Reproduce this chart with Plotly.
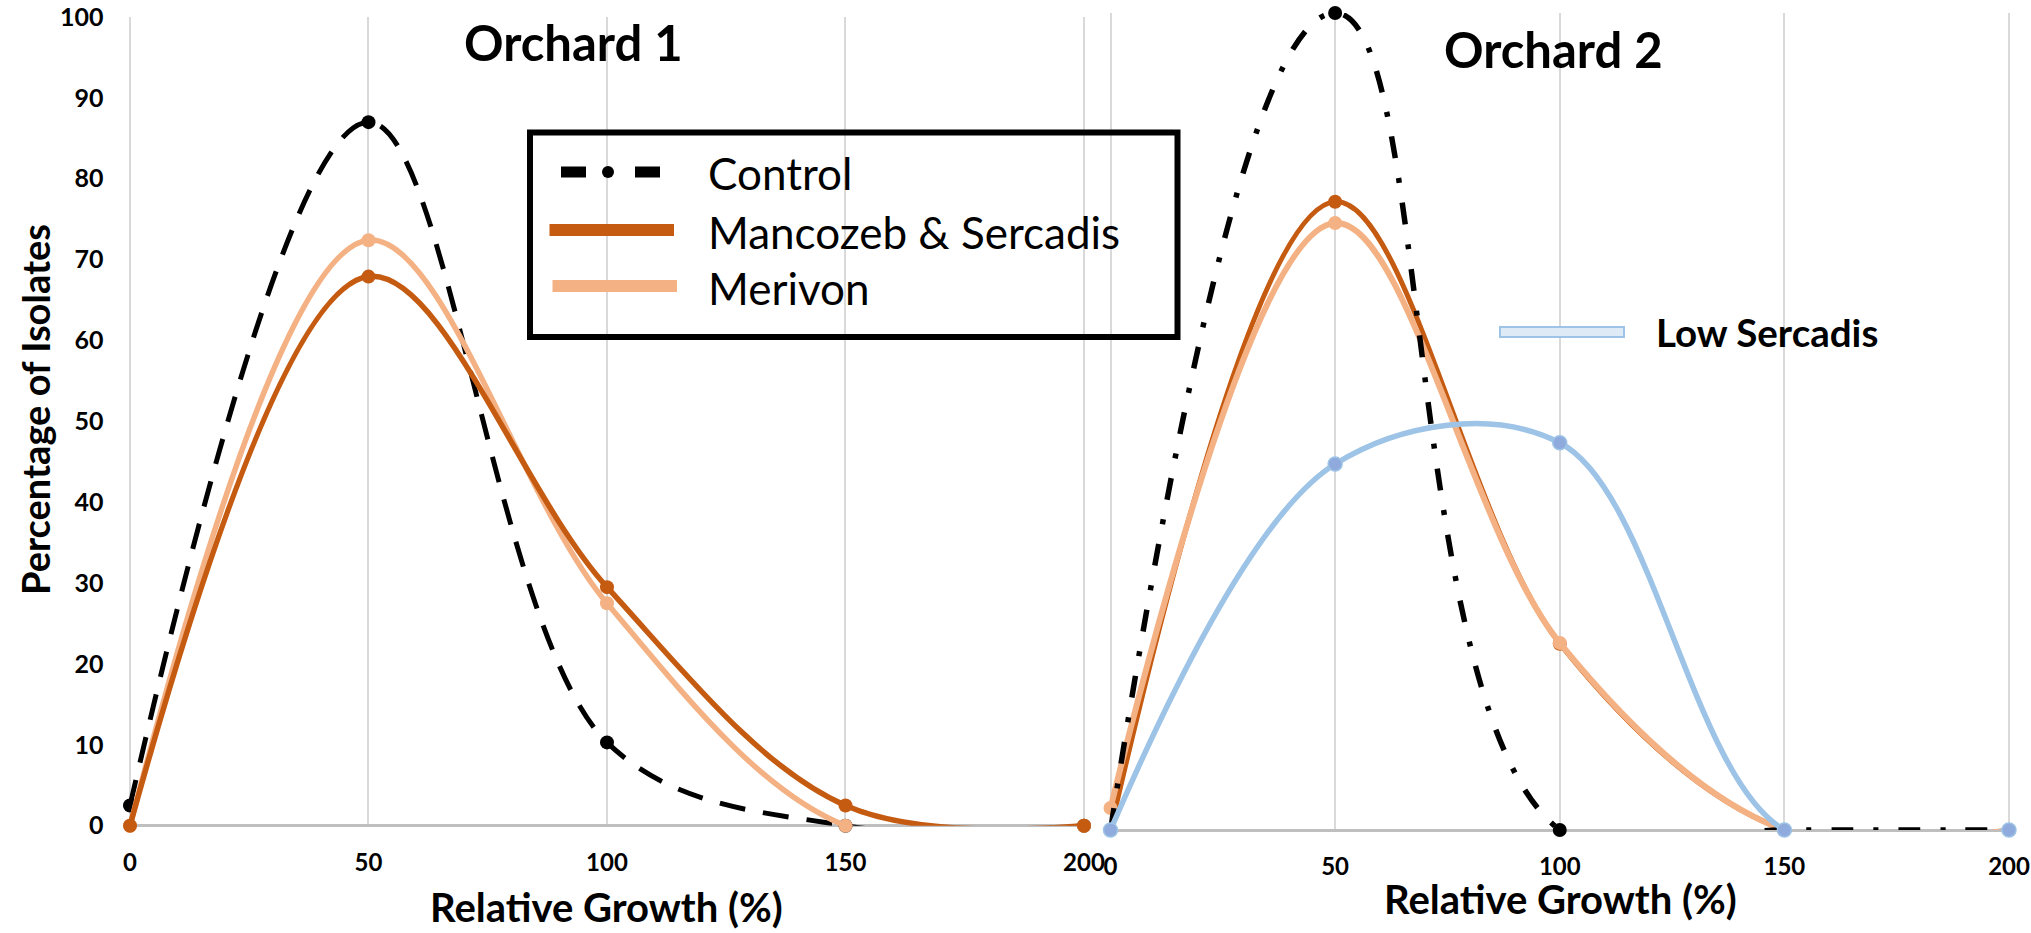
import plotly.graph_objects as go

W, H = 2031, 933

# ---------------- data ----------------
x_vals = [0, 50, 100, 150, 200]
x_ticks = [0, 50, 100, 150, 200]
y_ticks = [0, 10, 20, 30, 40, 50, 60, 70, 80, 90, 100]

o1_control = [2.5, 87.0, 10.3, 0.0, 0.0]
o1_mancozeb = [0.0, 67.9, 29.5, 2.5, 0.0]
o1_merivon = [0.0, 72.4, 27.5, 0.0, 0.0]

o2_control = [0.0, 100.0, 0.0, 0.0, 0.0]
o2_mancozeb = [0.0, 76.9, 22.8, 0.0, 0.0]
o2_merivon = [2.7, 74.3, 22.9, 0.0, 0.0]
o2_low_sercadis = [0.0, 44.8, 47.4, 0.0, 0.0]

series_names = ["Control", "Mancozeb & Sercadis", "Merivon", "Low Sercadis"]
panel_titles = ["Orchard 1", "Orchard 2"]
x_title = "Relative Growth (%)"
y_title = "Percentage of Isolates"

C_CONTROL = "#000000"
C_MANC = "#C55A11"
C_MERI = "#F4B183"
C_LOW = "#9DC3E6"
C_LOW_MK = "#8FAADC"
GRID = "#D9D9D9"
AXIS = "#BFBFBF"

FONT = "Lato"


def px(p):
    return p / W


def py(p):
    return 1 - p / H


fig = go.Figure()


def line_trace(y, color, width, dash, xa, ya, name, mk_color=None, mk_line=None, smooth=1.0):
    return go.Scatter(
        x=x_vals, y=y, name=name, xaxis=xa, yaxis=ya, mode="lines+markers",
        line=dict(color=color, width=width, dash=dash, shape="spline", smoothing=smooth),
        marker=dict(size=14, color=mk_color or color,
                    line=dict(width=1.5 if mk_line else 0, color=mk_line or color)),
        cliponaxis=False, showlegend=False, hoverinfo="x+y+name",
    )


# Orchard 1 (left panel)
fig.add_trace(line_trace(o1_control, C_CONTROL, 5, "26px,18px", "x", "y", series_names[0]))
fig.add_trace(line_trace(o1_merivon, C_MERI, 5.5, "solid", "x", "y", series_names[2]))
fig.add_trace(line_trace(o1_mancozeb, C_MANC, 5.5, "solid", "x", "y", series_names[1]))

# Orchard 2 (right panel)
fig.add_trace(line_trace(o2_mancozeb, C_MANC, 5, "solid", "x2", "y2", series_names[1]))
fig.add_trace(line_trace(o2_merivon, C_MERI, 6, "solid", "x2", "y2", series_names[2]))
fig.add_trace(line_trace(o2_low_sercadis, C_LOW, 5.5, "solid", "x2", "y3", series_names[3],
                         mk_color=C_LOW_MK, mk_line=C_LOW))
fig.add_trace(line_trace(o2_control, C_CONTROL, 5.5, "22px,20px,5px,20px", "x2", "y2",
                         series_names[0], smooth=1.3))

tickfont_x = dict(family=FONT, size=24, color="black", weight="bold")
tickfont_y = dict(family=FONT, size=25, color="black", weight="bold")

# x ranges padded a hair so the edge gridlines (0 and 200) are drawn
L0, L1 = 130, 1084
R0, R1 = 1110.5, 2009
PAD = 0.3
lpu = (L1 - L0) / 200.0
rpu = (R1 - R0) / 200.0

xcommon = dict(
    range=[-PAD, 200 + PAD], tickvals=x_ticks, ticktext=[str(v) for v in x_ticks],
    showgrid=True, gridcolor=GRID, gridwidth=2, zeroline=False,
    showline=False, ticks="", tickfont=tickfont_x,
    ticklabelstandoff=20, layer="below traces", fixedrange=True,
)

fig.update_layout(
    width=W, height=H, margin=dict(l=0, r=0, t=0, b=0, autoexpand=False),
    paper_bgcolor="white", plot_bgcolor="rgba(0,0,0,0)",
    showlegend=False,
    xaxis=dict(domain=[px(L0 - PAD * lpu), px(L1 + PAD * lpu)], anchor="y", **xcommon),
    xaxis2=dict(domain=[px(R0 - PAD * rpu), px(R1 + PAD * rpu)], anchor="y2", **xcommon),
    yaxis=dict(domain=[py(825.7), py(17)], range=[0, 100], anchor="x",
               tickvals=y_ticks, ticktext=[str(v) for v in y_ticks],
               showgrid=False, zeroline=True, zerolinecolor=AXIS, zerolinewidth=2.5,
               showline=False, ticks="",
               tickfont=tickfont_y, ticklabelstandoff=24, fixedrange=True),
    yaxis2=dict(domain=[py(830), py(13)], range=[0, 100], anchor="x2",
                showgrid=False, zeroline=True, zerolinecolor=AXIS, zerolinewidth=2.5,
                showline=False, showticklabels=False, ticks="", fixedrange=True),
    yaxis3=dict(domain=[py(834), py(17)], range=[0, 100], anchor="x2", overlaying="y2",
                showgrid=False, zeroline=False, showline=False,
                showticklabels=False, ticks="", fixedrange=True),
)

shapes = []
# white boxes behind panel titles (hide gridlines, not traces)
shapes.append(dict(type="rect", xref="paper", yref="paper", layer="between",
                   x0=px(455), x1=px(695), y0=py(77), y1=py(0),
                   fillcolor="white", line=dict(width=0)))
shapes.append(dict(type="rect", xref="paper", yref="paper", layer="between",
                   x0=px(1440), x1=px(1668), y0=py(82), y1=py(0),
                   fillcolor="white", line=dict(width=0)))

# legend box (Orchard 1)
shapes.append(dict(type="rect", xref="paper", yref="paper", layer="above",
                   x0=px(530), x1=px(1177.5), y0=py(337), y1=py(132.5),
                   fillcolor="rgba(0,0,0,0)", line=dict(color="black", width=6)))
# control sample: dash, dot, dash
shapes.append(dict(type="rect", xref="paper", yref="paper", x0=px(561), x1=px(586),
                   y0=py(177.5), y1=py(166.5), fillcolor="black", line=dict(width=0)))
shapes.append(dict(type="circle", xref="paper", yref="paper", x0=px(602), x1=px(614),
                   y0=py(178), y1=py(166), fillcolor="black", line=dict(width=0)))
shapes.append(dict(type="rect", xref="paper", yref="paper", x0=px(635), x1=px(660),
                   y0=py(177.5), y1=py(166.5), fillcolor="black", line=dict(width=0)))
# mancozeb & merivon samples
shapes.append(dict(type="rect", xref="paper", yref="paper", x0=px(549.5), x1=px(674),
                   y0=py(236), y1=py(224), fillcolor=C_MANC, line=dict(width=0)))
shapes.append(dict(type="rect", xref="paper", yref="paper", x0=px(552.5), x1=px(677),
                   y0=py(292), y1=py(280), fillcolor=C_MERI, line=dict(width=0)))
# low sercadis legend sample
shapes.append(dict(type="rect", xref="paper", yref="paper", x0=px(1500), x1=px(1624),
                   y0=py(337), y1=py(327), fillcolor="#DEEBF7",
                   line=dict(color=C_LOW, width=2)))
fig.update_layout(shapes=shapes)

ann = []


def text(t, x, y, size, weight="normal", family=FONT, xanchor="center", angle=0):
    ann.append(dict(text=t, x=px(x), y=py(y), xref="paper", yref="paper",
                    xanchor=xanchor, yanchor="middle", showarrow=False,
                    textangle=angle, borderpad=0,
                    font=dict(family=family, size=size, color="black", weight=weight)))


text(panel_titles[0], 573.5, 42, 49, "bold")
text(panel_titles[1], 1553, 49, 49, "bold")
text(x_title, 606.5, 907, 40, "bold")
text(x_title, 1560, 899, 40, "bold")
text(y_title, 35, 410, 38, "bold", angle=-90)
text(series_names[0], 707, 173, 44, xanchor="left")
text(series_names[1], 707, 232, 44, xanchor="left")
text(series_names[2], 707, 288, 44, xanchor="left")
text(series_names[3], 1655, 332, 38.5, "bold", xanchor="left")
fig.update_layout(annotations=ann)

fig.write_html(
    "out.html",
    post_script="document.documentElement.style.margin='0';"
                "document.body.style.margin='0';document.body.style.padding='0';"
                "document.documentElement.style.overflow='hidden';"
                "document.body.style.overflow='hidden';",
)
